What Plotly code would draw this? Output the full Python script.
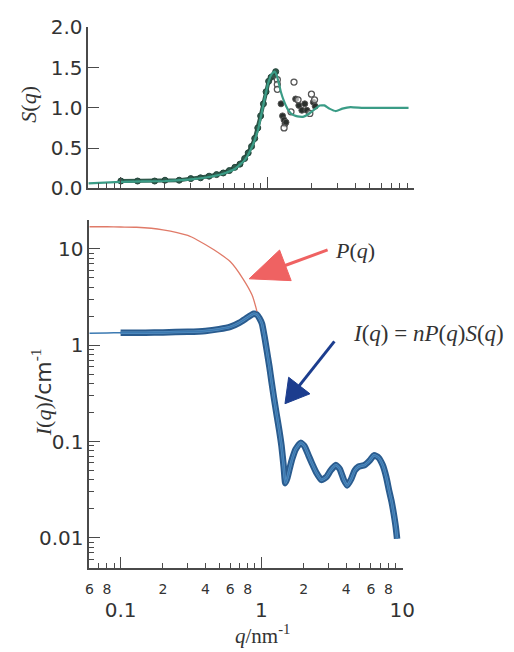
import plotly.graph_objects as go

W, H = 514, 652

# ---------------- data ----------------
# form factor P(q)
q_P = [0.06, 0.08, 0.1, 0.13, 0.2, 0.3, 0.35, 0.46, 0.6, 0.74, 0.86, 0.93]
P_vals = [17.0, 17.0, 16.9, 16.8, 15.8, 13.8, 12.4, 9.8, 7.4, 4.9, 3.3, 2.25]

# scattering intensity I(q)
q_I = [0.06, 0.08, 0.1, 0.15, 0.2, 0.3, 0.4, 0.5, 0.6, 0.7, 0.8, 0.88, 0.93, 0.97,
       1.01, 1.05, 1.09, 1.14, 1.18, 1.23, 1.28, 1.34, 1.39, 1.44, 1.48, 1.53, 1.6,
       1.66, 1.75, 1.9, 2.02, 2.16, 2.28, 2.45, 2.67, 2.9, 3.1, 3.38, 3.6, 3.85, 4.07,
       4.35, 4.6, 4.9, 5.4, 5.9, 6.3, 6.8, 7.27, 7.7, 8.07, 8.4, 8.7, 9.0, 9.2]
I_vals = [1.33, 1.34, 1.35, 1.35, 1.36, 1.38, 1.41, 1.47, 1.55, 1.72, 1.95, 2.12, 2.08, 1.9,
          1.67, 1.25, 0.9, 0.6, 0.42, 0.28, 0.195, 0.13, 0.09, 0.055, 0.037, 0.042, 0.055,
          0.067, 0.083, 0.097, 0.09, 0.072, 0.06, 0.048, 0.04, 0.043, 0.05, 0.057, 0.052, 0.04, 0.035,
          0.041, 0.05, 0.055, 0.057, 0.064, 0.072, 0.068, 0.057, 0.043, 0.031, 0.024, 0.018, 0.013, 0.0098]

# structure factor S(q): model curve
q_Sm = [0.06, 0.1, 0.2, 0.3, 0.4, 0.5, 0.6, 0.7, 0.76, 0.82, 0.87, 0.91, 0.96, 1.01, 1.07,
        1.12, 1.16, 1.2, 1.24, 1.3, 1.37, 1.45, 1.56, 1.66, 1.77, 1.9, 2.06, 2.28, 2.45,
        2.65, 2.93, 3.25, 3.7, 4.5, 6.0, 8.0, 9.2]
S_model = [0.06, 0.08, 0.09, 0.11, 0.14, 0.18, 0.24, 0.35, 0.46, 0.6, 0.75, 0.92, 1.12, 1.3, 1.42,
           1.45, 1.4, 1.3, 1.19, 1.08, 0.99, 0.93, 0.9, 0.89, 0.89, 0.92, 0.97, 1.03, 1.03,
           0.99, 0.96, 0.99, 1.01, 1.0, 1.0, 1.0, 1.0]

# S(q) experimental points along the curve
q_Se = [0.1, 0.13, 0.17, 0.2, 0.25, 0.3, 0.35, 0.4, 0.45, 0.5, 0.55, 0.6, 0.65, 0.7, 0.74,
        0.78, 0.82, 0.86, 0.9, 0.94, 0.98, 1.02, 1.06, 1.1, 1.14]
S_exp = [0.09, 0.09, 0.09, 0.1, 0.1, 0.12, 0.13, 0.15, 0.17, 0.19, 0.22, 0.26, 0.3, 0.37, 0.44,
         0.52, 0.62, 0.75, 0.9, 1.05, 1.2, 1.33, 1.38, 1.4, 1.45]
# scattered experimental points (filled / open)
q_Sf = [1.24, 1.27, 1.3, 1.32, 1.34, 1.56, 1.64, 1.72, 1.8, 1.86, 2.06, 2.12]
S_f = [1.05, 0.9, 0.85, 0.8, 0.82, 1.11, 1.03, 0.97, 1.05, 0.97, 1.07, 1.02]
q_So = [1.17, 1.17, 1.17, 1.52, 1.3, 1.45, 1.62, 2.0, 1.95, 2.1]
S_o = [1.35, 1.29, 1.23, 1.32, 0.75, 0.95, 1.1, 1.17, 0.93, 1.1]

# ticks
x_major = [0.1, 1, 10]
x_major_text = ["0.1", "1", "10"]
x_minor = [0.06, 0.07, 0.08, 0.09, 0.2, 0.3, 0.4, 0.5, 0.6, 0.7, 0.8, 0.9,
           2, 3, 4, 5, 6, 7, 8, 9]
x_minor_lab = [0.06, 0.08, 0.2, 0.4, 0.6, 0.8, 2, 4, 6, 8]
x_minor_text = ["6", "8", "2", "4", "6", "8", "2", "4", "6", "8"]
S_ticks = [0, 0.5, 1.0, 1.5, 2.0]
S_tick_text = ["0.0", "0.5", "1.0", "1.5", "2.0"]
I_ticks = [0.01, 0.1, 1, 10]
I_tick_text = ["0.01", "0.1", "1", "10"]
I_minor = [round(k * d, 4) for d in (0.001, 0.01, 0.1, 1, 10) for k in range(2, 10)]

# ---------------- helpers ----------------
def px(x):
    return x / W

def py(y):
    return 1 - y / H

AX = "#4a4a4a"
TXT = "#333333"
SANS = "DejaVu Sans"
SERIF = "Liberation Serif"

# short-tick arrays: every decade sub-division, small digit labels only where shown
x_all = sorted(set(x_major + x_minor))
x_all_text = [x_minor_text[x_minor_lab.index(v)] if v in x_minor_lab else "" for v in x_all]

y_all = sorted(set(I_ticks + I_minor))
y_all_text = [I_tick_text[I_ticks.index(v)] if v in I_ticks else "" for v in y_all]

fig = go.Figure()

# ---- top panel: S(q)
fig.add_trace(go.Scatter(x=q_Se, y=S_exp, mode="lines+markers", xaxis="x", yaxis="y",
                         line=dict(color="#2f5a4c", width=4),
                         marker=dict(size=6, color="#2f5a4c", line=dict(width=1, color="#23443a")),
                         showlegend=False, hoverinfo="skip"))
fig.add_trace(go.Scatter(x=q_Sf, y=S_f, mode="markers", xaxis="x", yaxis="y",
                         marker=dict(size=6, color="#2a2f2c", line=dict(width=1, color="#555")),
                         showlegend=False, hoverinfo="skip"))
fig.add_trace(go.Scatter(x=q_So, y=S_o, mode="markers", xaxis="x", yaxis="y",
                         marker=dict(size=6, color="rgba(255,255,255,0.6)", line=dict(width=1.3, color="#555")),
                         showlegend=False, hoverinfo="skip"))
# model line drawn on an overlay x axis (same scale) that carries the long decade ticks
fig.add_trace(go.Scatter(x=q_Sm, y=S_model, mode="lines", xaxis="x3", yaxis="y",
                         line=dict(color="#3a9c86", width=2.2, shape="spline", smoothing=0.3),
                         showlegend=False, hoverinfo="skip"))

# ---- bottom panel: P(q) and I(q)
fig.add_trace(go.Scatter(x=q_P, y=P_vals, mode="lines", xaxis="x4", yaxis="y2",
                         line=dict(color="#e07a68", width=1.3, shape="spline", smoothing=0.6),
                         showlegend=False, hoverinfo="skip"))
fig.add_trace(go.Scatter(x=q_I, y=I_vals, mode="lines", xaxis="x2", yaxis="y3",
                         line=dict(color="#3c7ab2", width=1.5, shape="spline", smoothing=0.5),
                         showlegend=False, hoverinfo="skip"))
i0 = q_I.index(0.1)
fig.add_trace(go.Scatter(x=q_I[i0:], y=I_vals[i0:], mode="lines", xaxis="x2", yaxis="y2",
                         line=dict(color="#2a5c8f", width=6.5, shape="spline", smoothing=0.5),
                         showlegend=False, hoverinfo="skip"))
fig.add_trace(go.Scatter(x=q_I[i0:], y=I_vals[i0:], mode="lines", xaxis="x2", yaxis="y2",
                         line=dict(color="#5f96c6", width=2.5, shape="spline", smoothing=0.5),
                         showlegend=False, hoverinfo="skip"))

base = dict(showgrid=False, zeroline=False, ticks="inside", tickcolor=AX, tickwidth=1.4)
lined = dict(base, showline=True, linecolor=AX, linewidth=1.6)

XR = [-1.2225, 1.0]
XR2 = [-1.2225, 1.007]
YR2 = [-2.31, 1.30]
XD = [px(87), px(423)]
XD2 = [px(88), px(412)]
YD = [py(183), py(16)]
YD2 = [py(577), py(216)]

fig.update_layout(
    width=W, height=H, margin=dict(l=0, r=0, t=0, b=0),
    paper_bgcolor="white", plot_bgcolor="white", showlegend=False,
    # top panel: short ticks everywhere
    xaxis=dict(**lined, type="log", domain=XD, range=XR, anchor="y",
               tickmode="array", tickvals=x_all, ticklen=5, showticklabels=False),
    # top panel overlay: long decade ticks
    xaxis3=dict(**base, type="log", overlaying="x", anchor="y", domain=XD, range=XR,
                showline=False, tickmode="array", tickvals=x_major, ticklen=11,
                showticklabels=False),
    yaxis=dict(**lined, domain=YD, range=[0, 2.0], anchor="x", ticklen=11,
               tickmode="array", tickvals=S_ticks, ticktext=S_tick_text,
               tickfont=dict(family=SANS, size=20, color=TXT)),
    # bottom panel x: short ticks + small sub-decade digits
    xaxis2=dict(**lined, type="log", domain=XD2, range=XR2, anchor="y2", ticklen=5,
                tickangle=0, tickmode="array", tickvals=x_all, ticktext=x_all_text,
                ticklabelstandoff=8,
                tickfont=dict(family=SANS, size=14, color=TXT)),
    # bottom panel x overlay: long decade ticks + decade labels on a lower row
    xaxis4=dict(**base, type="log", overlaying="x2", anchor="y2", domain=XD2, range=XR2,
                showline=False, tickmode="array", tickvals=x_major, ticktext=x_major_text,
                ticklen=11, tickangle=0, ticklabelstandoff=28,
                tickfont=dict(family=SANS, size=20, color=TXT)),
    # bottom panel y: short ticks + labels, overlay for long decade ticks
    yaxis2=dict(**lined, type="log", domain=YD2, range=YR2, anchor="x2", ticklen=5,
                tickmode="array", tickvals=y_all, ticktext=y_all_text,
                tickfont=dict(family=SANS, size=20, color=TXT)),
    yaxis3=dict(**base, type="log", overlaying="y2", anchor="x2", domain=YD2, range=YR2,
                showline=False, tickmode="array", tickvals=I_ticks, ticklen=11,
                showticklabels=False),
)

# ---- arrows (drawn as shapes in paper coordinates)
def poly(points):
    return "M " + " L ".join(f"{px(x)},{py(y)}" for x, y in points) + " Z"

RED = "#ef6262"
BLUE = "#1c3d8e"
fig.add_shape(type="line", xref="paper", yref="paper",
              x0=px(334), y0=py(247), x1=px(288), y1=py(264), line=dict(color=RED, width=3))
fig.add_shape(type="path", xref="paper", yref="paper",
              path=poly([(253, 277), (284.4, 247.1), (296.4, 278.9)]),
              fillcolor=RED, line=dict(color=RED, width=1))
fig.add_shape(type="line", xref="paper", yref="paper",
              x0=px(341), y0=py(342), x1=px(304), y1=py(389), line=dict(color=BLUE, width=3))
fig.add_shape(type="path", xref="paper", yref="paper",
              path=poly([(290, 406.7), (293.8, 379.2), (315.8, 396.4)]),
              fillcolor=BLUE, line=dict(color=BLUE, width=1))

# ---- texts
def note(x, y, text, size, angle=0, family=SERIF):
    fig.add_annotation(x=px(x), y=py(y), xref="paper", yref="paper", text=text,
                       showarrow=False, textangle=angle, xanchor="center", yanchor="middle",
                       font=dict(family=family, size=size, color=TXT))

note(362, 248, "<i>P</i>(<i>q</i>)", 22)
note(438, 334, "<i>I</i>(<i>q</i>) = <i>nP</i>(<i>q</i>)<i>S</i>(<i>q</i>)", 23)
note(25, 96, "<i>S</i>(<i>q</i>)", 22, angle=-90)
note(39, 395, "<i>I</i>(<i>q</i>)<span style=\"font-family:'DejaVu Sans'\">/cm</span><sup>-1</sup>",
     22, angle=-90)
note(267, 646, "<i>q</i>/nm<sup>-1</sup>", 21)

fig.write_html("out.html")
